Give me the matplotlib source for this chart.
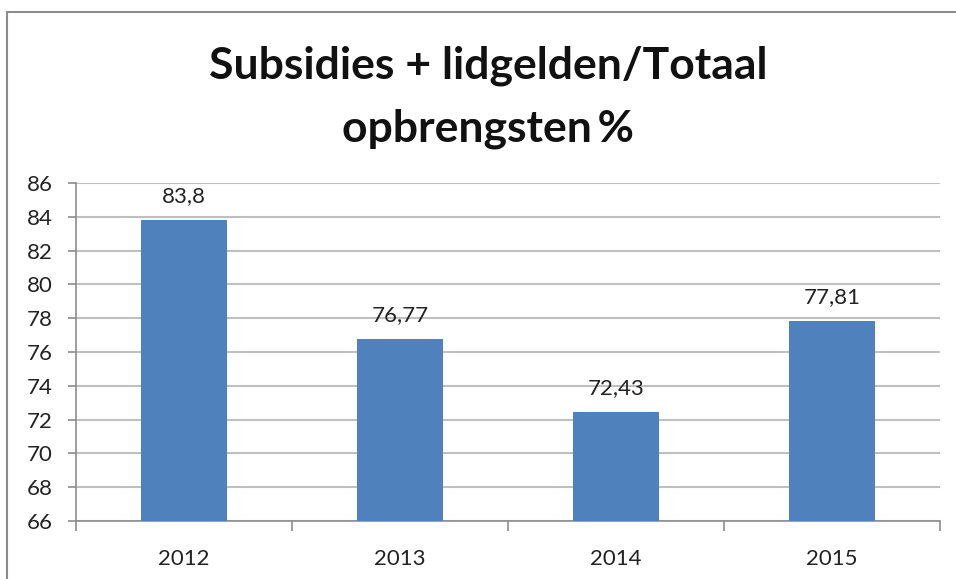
import matplotlib
matplotlib.use("Agg")
import matplotlib.pyplot as plt
from matplotlib.patches import Rectangle
from matplotlib.ticker import FixedLocator

years = ["2012", "2013", "2014", "2015"]
values = [83.8, 76.77, 72.43, 77.81]
labels = ["83,8", "76,77", "72,43", "77,81"]
yticks = list(range(66, 87, 2))

plt.rcParams['font.family'] = ['Lato', 'DejaVu Sans']

fig = plt.figure(figsize=(9.56, 5.79), dpi=100)
fig.patch.set_facecolor("white")
fig.patches.append(Rectangle((7/956, -0.1), 1.2, 1 - 12/579 + 0.1,
                             transform=fig.transFigure, fill=False,
                             edgecolor="#8c8c8c", linewidth=1.5))

ax = fig.add_axes([76/956, 1 - 521/579, (940 - 76)/956, (521 - 183)/579])
x = list(range(len(years)))
bars = ax.bar(x, [v - 66 for v in values], bottom=66, width=0.4,
              color="#4f81bd", zorder=3)
ax.set_xlim(-0.5, len(years) - 0.5)
ax.set_ylim(66, 86)
ax.set_yticks(yticks)
ax.set_yticklabels([str(t) for t in yticks], fontsize=16, color="#222222")
ax.set_xticks(x)
ax.set_xticklabels(years, fontsize=16, color="#222222")
ax.tick_params(axis="x", which="major", length=0, pad=20)
ax.xaxis.set_minor_locator(FixedLocator([i - 0.5 for i in range(len(years) + 1)]))
ax.tick_params(axis="x", which="minor", length=7, color="#8c8c8c", width=1.2)
ax.tick_params(axis="y", length=6, color="#8c8c8c", width=1.2, pad=11)
ax.grid(axis="y", color="#bfbfbf", linewidth=1.5, zorder=0)
for s in ["top", "right"]:
    ax.spines[s].set_visible(False)
for s in ["left", "bottom"]:
    ax.spines[s].set_color("#8c8c8c")
    ax.spines[s].set_linewidth(1.2)

for xi, v, lab in zip(x, values, labels):
    ax.annotate(lab, (xi, v), xytext=(0, 10), textcoords="offset points",
                ha="center", va="bottom", fontsize=16, color="#222222")

fig.text(488/956, 1 - 66/579, "Subsidies + lidgelden/Totaal", ha="center",
         va="center", fontsize=32, fontweight="bold", color="#111111")
fig.text(488/956, 1 - 129/579, "opbrengsten\u2009%", ha="center",
         va="center", fontsize=32, fontweight="bold", color="#111111")

fig.savefig("out.png", dpi=100)
